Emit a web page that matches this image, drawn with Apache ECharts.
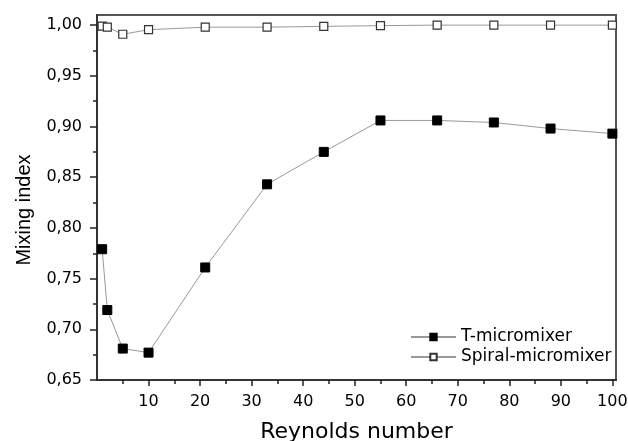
<!DOCTYPE html>
<html>
<head>
<meta charset="utf-8">
<script src="https://cdn.jsdelivr.net/npm/echarts@6/dist/echarts.min.js"></script>
<style>html,body{margin:0;padding:0;background:#fff}#c{width:628px;height:441px}</style>
</head>
<body>
<div id="c"></div>
<script>
var reynolds = [1, 2, 5, 10, 21, 33, 44, 55, 66, 77, 88, 100];
var tMicromixer = [0.779, 0.719, 0.681, 0.677, 0.761, 0.843, 0.875, 0.906, 0.906, 0.904, 0.898, 0.893];
var spiralMicromixer = [0.999, 0.998, 0.991, 0.9955, 0.998, 0.998, 0.9988, 0.9995, 1.0, 1.0, 1.0, 1.0];
var xMajorTicks = [10, 20, 30, 40, 50, 60, 70, 80, 90, 100];
var xMinorTicks = [5, 15, 25, 35, 45, 55, 65, 75, 85, 95];
var yMajorTicks = [0.65, 0.70, 0.75, 0.80, 0.85, 0.90, 0.95, 1.00];
var yMinorTicks = [0.675, 0.725, 0.775, 0.825, 0.875, 0.925, 0.975];
var seriesNames = ['T-micromixer', 'Spiral-micromixer'];

function pairs(xs, ys) { return xs.map(function (x, i) { return [x, ys[i]]; }); }

var FONT = 'DejaVu Sans';
var chart = echarts.init(document.getElementById('c'), null, {renderer: 'canvas'});
var axisLineStyle = {color: '#333', width: 2};
var X_MIN = 0, X_MAX = 100.7, Y_MIN = 0.65, Y_MAX = 1.01;

chart.setOption({
  animation: false,
  backgroundColor: '#fff',
  grid: {left: 97, right: 12, top: 15, bottom: 61, show: true, borderColor: '#555', borderWidth: 2,
         containLabel: false, outerBoundsMode: 'none'},
  legend: {
    orient: 'vertical', left: 410, top: 327, padding: 0,
    itemWidth: 45, itemHeight: 8, itemGap: 0,
    textStyle: {fontFamily: FONT, fontSize: 17, color: '#000', lineHeight: 20},
    data: seriesNames
  },
  xAxis: [{
    type: 'value', min: X_MIN, max: X_MAX, position: 'bottom',
    name: 'Reynolds number', nameLocation: 'middle', nameGap: 41,
    nameTextStyle: {fontFamily: FONT, fontSize: 22, color: '#000'},
    axisLine: {show: true, lineStyle: axisLineStyle},
    axisTick: {show: true, customValues: xMajorTicks, length: 6, lineStyle: {color: '#222', width: 1.5}},
    axisLabel: {customValues: xMajorTicks, margin: 14, fontFamily: FONT, fontSize: 16, color: '#000'},
    splitLine: {show: false}
  }, {
    type: 'value', min: X_MIN, max: X_MAX, position: 'bottom', offset: 0,
    axisLine: {show: false},
    axisTick: {show: true, customValues: xMinorTicks, length: 4, lineStyle: {color: '#222', width: 1.5}},
    axisLabel: {show: false},
    splitLine: {show: false}
  }],
  yAxis: [{
    type: 'value', min: Y_MIN, max: Y_MAX, position: 'left',
    name: 'Mixing index', nameLocation: 'middle', nameGap: 63, nameRotate: 90,
    nameTextStyle: {fontFamily: 'Liberation Sans', fontSize: 20, color: '#000', padding: [0, 25, 0, 0]},
    axisLine: {show: true, lineStyle: axisLineStyle},
    axisTick: {show: true, customValues: yMajorTicks, length: 7, lineStyle: {color: '#222', width: 1.5}},
    axisLabel: {
      customValues: yMajorTicks, margin: 15, fontFamily: FONT, fontSize: 16, color: '#000',
      formatter: function (v) { return v.toFixed(2).replace('.', ','); }
    },
    splitLine: {show: false}
  }, {
    type: 'value', min: Y_MIN, max: Y_MAX, position: 'left', offset: 0,
    axisLine: {show: false},
    axisTick: {show: true, customValues: yMinorTicks, length: 4, lineStyle: {color: '#222', width: 1.5}},
    axisLabel: {show: false},
    splitLine: {show: false}
  }],
  series: [{
    name: seriesNames[0], type: 'line', xAxisIndex: 0, yAxisIndex: 0,
    data: pairs(reynolds, tMicromixer),
    symbol: 'rect', symbolSize: 9,
    lineStyle: {color: '#999', width: 1},
    itemStyle: {color: '#000', borderColor: '#000', borderWidth: 1},
    clip: false
  }, {
    name: seriesNames[1], type: 'line', xAxisIndex: 0, yAxisIndex: 0,
    data: pairs(reynolds, spiralMicromixer),
    symbol: 'rect', symbolSize: 8,
    lineStyle: {color: '#999', width: 1},
    itemStyle: {color: '#fff', borderColor: '#333', borderWidth: 1.2},
    clip: false
  }]
});
</script>
</body>
</html>
